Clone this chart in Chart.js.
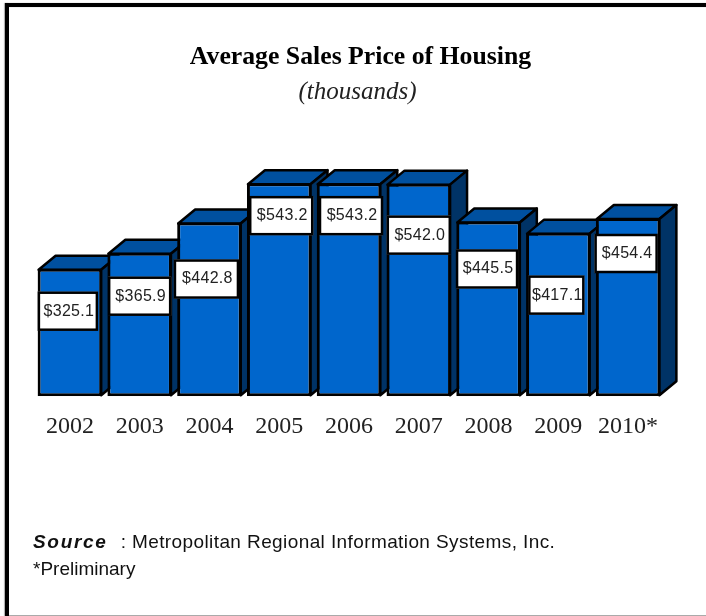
<!DOCTYPE html>
<html><head><meta charset="utf-8">
<style>
html,body{margin:0;padding:0;background:#fff;width:706px;height:616px;overflow:hidden}
#wrap{position:relative;width:706px;height:616px}
canvas{position:absolute;left:0;top:0}
.frame{position:absolute;background:#000}
.foot{position:absolute;left:33px;font:19px "Liberation Sans",Arial,sans-serif;color:#111;white-space:pre}
</style>
<script src="https://cdn.jsdelivr.net/npm/chart.js@4"></script>
</head><body>
<div id="wrap">
<canvas id="c" width="706" height="616"></canvas>
<div class="frame" style="left:5px;top:3px;width:701px;height:4px;box-shadow:0 0 1px #888"></div>
<div class="frame" style="left:5px;top:3px;width:4px;height:613px;box-shadow:-1px 0 1px #aaa"></div>
<div class="frame" style="left:9px;top:615px;width:697px;height:1px;background:#aaa"></div>
<div class="foot" style="top:531px"><b style="font-style:italic;letter-spacing:1.7px">Source</b><span style="margin-left:13px;letter-spacing:.4px">: Metropolitan Regional Information Systems, Inc.</span></div>
<div class="foot" style="top:558px">*Preliminary</div>
</div>
<script>
const categories=["2002","2003","2004","2005","2006","2007","2008","2009","2010*"];
const prices=[325.1,365.9,442.8,543.2,543.2,542.0,445.5,417.1,454.4];
const boxShiftX=[-2,0,-3,2,2,0,-1.5,-2,-2];
const boxShiftY=[23,24,37,13,13,32,28,43,16];
const boxWidth=[60,63,65,64,64,64,62,56,63];
const titleShift=11.5, subtitleShift=8.5;
const FRONT="#0066cc",TOP="#00509f",SIDE="#003366",LINE="#000";
const DX=17,DY=14;
const depth={id:"depth",
 afterLayout(ch){
  ch.boxes.forEach(b=>{
   if(!b.options||!b.options.text)return;
   const s=b.options.text==="(thousands)"?subtitleShift:titleShift;
   b.left+=s;b.right+=s;
  });},
 beforeDatasetsDraw(ch){
  const c=ch.ctx;c.save();c.lineWidth=2.5;c.strokeStyle=LINE;c.lineJoin="round";
  ch.getDatasetMeta(0).data.forEach(b=>{
   const l=b.x-b.width/2+1,r=b.x+b.width/2-1,t=b.y+1,bt=b.base-1;
   c.fillStyle=TOP;c.beginPath();c.moveTo(l,t);c.lineTo(l+DX,t-DY);c.lineTo(r+DX,t-DY);c.lineTo(r,t);c.closePath();c.fill();c.stroke();
   c.fillStyle=SIDE;c.beginPath();c.moveTo(r,t);c.lineTo(r+DX,t-DY);c.lineTo(r+DX,bt-DY);c.lineTo(r,bt);c.closePath();c.fill();c.stroke();
  });c.restore();},
 afterDatasetsDraw(ch){
  const c=ch.ctx;c.save();
  ch.getDatasetMeta(0).data.forEach((b,i)=>{
   const w=boxWidth[i],h=39,x=b.x+boxShiftX[i]-w/2,y=b.y+boxShiftY[i];
   c.fillStyle="#fff";c.strokeStyle=LINE;c.lineWidth=2.5;c.fillRect(x,y,w,h);c.strokeRect(x+1,y+1,w-2,h-2);
   c.fillStyle="#222";c.font='16px "Liberation Sans",Arial,sans-serif';c.letterSpacing="0.3px";c.textAlign="center";c.textBaseline="middle";
   c.fillText("$"+prices[i].toFixed(1),x+w/2+1,y+h/2);
  });c.restore();}
};
new Chart(document.getElementById("c"),{
 type:"bar",
 data:{labels:categories,datasets:[{data:prices,backgroundColor:FRONT,borderColor:LINE,borderWidth:3,borderSkipped:false,barPercentage:.925,categoryPercentage:1}]},
 plugins:[depth],
 options:{responsive:false,animation:false,devicePixelRatio:1,
  layout:{padding:{left:35,right:43,top:0,bottom:167}},
  plugins:{legend:{display:false},tooltip:{enabled:false},
   title:{display:true,text:"Average Sales Price of Housing",color:"#000",font:{family:'"Liberation Serif",serif',size:25.75,weight:"bold"},padding:{top:42,bottom:5}},
   subtitle:{display:true,text:"(thousands)",color:"#222",font:{family:'"Liberation Serif",serif',size:25,style:"italic",weight:"normal"},padding:{top:0,bottom:53}}},
  scales:{
   x:{grid:{display:false},border:{display:false},ticks:{color:"#222",padding:8,maxRotation:0,autoSkip:false,font:{family:'"Liberation Serif",serif',size:24}}},
   y:{display:false,min:0,max:600}
  }}
});
</script>
</body></html>
